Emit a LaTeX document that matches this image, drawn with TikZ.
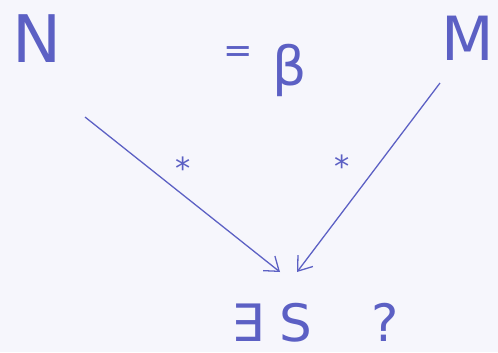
\documentclass[tikz,border=0pt]{standalone}
\usepackage{fontspec}
\setmainfont{DejaVu Sans}
\setsansfont{DejaVu Sans}
\usetikzlibrary{arrows.meta}
\definecolor{pen}{RGB}{92,96,196}
\definecolor{paper}{RGB}{246,246,252}
\tikzset{
  hand/.style={text=pen, inner sep=0pt, anchor=base, text depth=0pt},
  conn/.style={draw=pen, line width=1.1pt, -{Straight Barb[length=11pt,width=16pt,line width=1.1pt]}},
  lbl/.style={text=pen, font=\fontsize{26}{28}\selectfont, inner sep=0pt}
}
\begin{document}
\begin{tikzpicture}[x=0.03cm,y=-0.03cm]
\fill[paper] (0,0) rectangle (498,352);
\useasboundingbox (0,0) rectangle (498,352);
\node[hand, font=\fontsize{56}{60}\selectfont] (N) at (37,62) {N};
\node[hand, font=\fontsize{52}{56}\selectfont] (M) at (468,60) {M};
\node[hand, font=\fontsize{30}{32}\selectfont] (EQ) at (238,62) {=};
\node[hand, font=\fontsize{46}{50}\selectfont] (B) at (290,85) {β};
\node[hand, font=\fontsize{44}{48}\selectfont] (E) at (272,341) {∃\hspace{0.3em}S};
\node[hand, font=\fontsize{44}{48}\selectfont] (Q) at (385,341) {?};
\coordinate (s1) at (85,117);
\coordinate (e1) at (280,272);
\coordinate (s2) at (440,83);
\coordinate (e2) at (297,272);
\draw[conn] (s1) -- (e1);
\draw[conn] (s2) -- (e2);
\node[lbl] (st1) at (183,168) {*};
\node[lbl] (st2) at (342,166) {*};
\end{tikzpicture}
\end{document}
